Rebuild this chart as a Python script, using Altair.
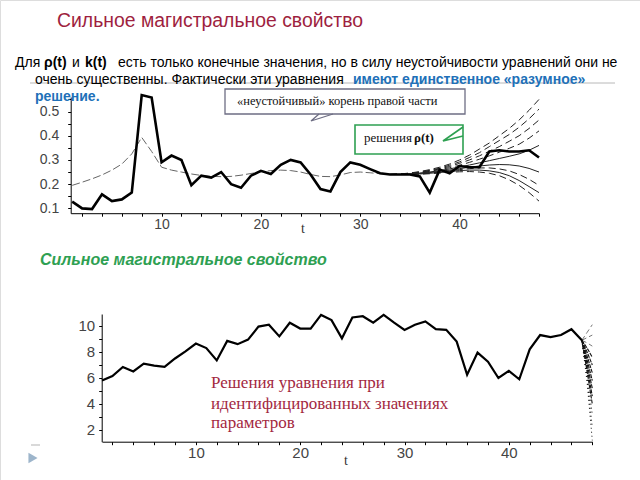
import altair as alt
import pandas as pd

# ---------------- top panel: rho(t) ----------------
T_TOP = list(range(1, 49))
RHO = [0.128, 0.100, 0.097, 0.158, 0.130, 0.137, 0.165, 0.568, 0.558, 0.290,
       0.318, 0.300, 0.196, 0.235, 0.227, 0.250, 0.200, 0.185, 0.235, 0.255,
       0.242, 0.280, 0.300, 0.290, 0.240, 0.180, 0.170, 0.250, 0.290, 0.280,
       0.262, 0.245, 0.240, 0.240, 0.240, 0.232, 0.165, 0.260, 0.245, 0.275,
       0.270, 0.270, 0.335, 0.340, 0.335, 0.335, 0.340, 0.310]

T_SMOOTH = list(range(1, 36))
RHO_SMOOTH = [0.195, 0.208, 0.222, 0.238, 0.258, 0.283, 0.325, 0.393, 0.335, 0.270,
              0.258, 0.250, 0.242, 0.236, 0.232, 0.231, 0.232, 0.237, 0.244, 0.251,
              0.256, 0.258, 0.256, 0.250, 0.240, 0.232, 0.231, 0.238, 0.248, 0.250,
              0.247, 0.243, 0.240, 0.240, 0.241]

T_FAN = list(range(33, 49))
FAN_DASHED = {
    "f1": [0.24, 0.242, 0.246, 0.252, 0.26, 0.27, 0.283, 0.30, 0.32, 0.345, 0.37, 0.40, 0.43, 0.465, 0.505, 0.55],
    "f2": [0.24, 0.242, 0.245, 0.25, 0.257, 0.266, 0.278, 0.292, 0.31, 0.33, 0.355, 0.38, 0.405, 0.435, 0.47, 0.51],
    "f3": [0.24, 0.241, 0.244, 0.249, 0.255, 0.263, 0.273, 0.286, 0.30, 0.317, 0.336, 0.355, 0.377, 0.40, 0.43, 0.465],
    "f4": [0.24, 0.241, 0.243, 0.247, 0.253, 0.26, 0.268, 0.278, 0.29, 0.303, 0.317, 0.332, 0.348, 0.365, 0.39, 0.42],
    "f7": [0.24, 0.24, 0.24, 0.243, 0.246, 0.25, 0.255, 0.26, 0.264, 0.267, 0.267, 0.263, 0.255, 0.24, 0.22, 0.195],
    "f9": [0.24, 0.24, 0.24, 0.241, 0.243, 0.246, 0.249, 0.251, 0.252, 0.25, 0.245, 0.235, 0.218, 0.195, 0.165, 0.13],
}
FAN_SOLID = {
    "f5": [0.24, 0.24, 0.242, 0.246, 0.25, 0.256, 0.263, 0.271, 0.279, 0.288, 0.297, 0.306, 0.315, 0.325, 0.34, 0.36],
    "f6": [0.24, 0.24, 0.241, 0.244, 0.248, 0.253, 0.258, 0.264, 0.27, 0.275, 0.279, 0.281, 0.28, 0.275, 0.265, 0.25],
    "f8": [0.24, 0.24, 0.24, 0.242, 0.245, 0.248, 0.252, 0.256, 0.258, 0.258, 0.255, 0.248, 0.235, 0.215, 0.19, 0.165],
}

TOP_X_TICKS = list(range(2, 49, 2))
TOP_Y_TICKS = [0.1, 0.15, 0.2, 0.25, 0.3, 0.35, 0.4, 0.45, 0.5, 0.55]

# ---------------- bottom panel: k(t) ----------------
T_BOT = list(range(1, 48))
K = [5.80, 6.15, 6.85, 6.50, 7.10, 6.95, 6.85, 7.50, 8.05, 8.65,
     8.30, 7.35, 8.85, 8.60, 8.95, 9.95, 10.10, 9.20, 10.25, 9.80,
     9.80, 10.85, 10.45, 9.05, 10.65, 10.75, 10.25, 10.85, 10.25, 9.70,
     10.10, 10.35, 9.75, 9.70, 8.80, 6.25, 7.95, 7.25, 6.00, 6.55,
     5.90, 8.20, 9.30, 9.15, 9.30, 9.75, 8.90]

T_FAN_B = [47, 47.5, 48]
FAN_B_THIN = {
    "u1": [8.9, 9.5, 10.1],
    "u2": [8.9, 9.1, 9.3],
    "u3": [8.9, 8.7, 8.45],
}
FAN_B_DENSE = {
    "b1": [8.9, 8.3, 7.6],
    "b2": [8.9, 8.0, 7.0],
    "b3": [8.9, 7.7, 6.4],
    "b4": [8.9, 7.4, 5.8],
    "b5": [8.9, 7.1, 5.2],
    "b6": [8.9, 6.8, 4.6],
    "b7": [8.9, 6.5, 4.0],
}
FAN_B_DOTTED = {
    "b8": [8.9, 6.2, 3.2],
    "b9": [8.9, 5.9, 2.2],
    "b10": [8.9, 5.7, 1.2],
}
BOT_X_TICKS = list(range(2, 49, 2))
BOT_Y_TICKS = list(range(2, 11))


def long_df(ts, series):
    rows = []
    for name, vals in series.items():
        for t, v in zip(ts, vals):
            rows.append({"t": t, "v": v, "line": name})
    return pd.DataFrame(rows)


W, H = 640, 480
AX_FONT = "Liberation Sans"
AX_COLOR = "#444444"

# --- top scales/axes
x_top_scale = alt.Scale(domain=[0.85, 48], range=[70.7, 539], nice=False, zero=False)
y_top_scale = alt.Scale(domain=[0.08, 0.56], range=[213.2, 97], nice=False, zero=False)
x_top_axis = alt.Axis(orient="bottom", offset=213.2 - H, values=TOP_X_TICKS,
                      labelExpr="datum.value % 10 == 0 ? datum.label : ''",
                      title=None, grid=False, tickSize=3, labelPadding=1,
                      domainColor="black", tickColor="black", labelColor=AX_COLOR,
                      labelFont=AX_FONT, labelFontSize=14, labelOverlap=False,
                      labelFlush=False)
y_top_axis = alt.Axis(orient="left", offset=-70.7, values=TOP_Y_TICKS,
                      labelExpr="round(datum.value*100) % 10 == 0 ? format(datum.value, '.1f') : ''",
                      title=None, grid=False, tickSize=3, labelPadding=9,
                      domainColor="black", tickColor="black", labelColor=AX_COLOR,
                      labelFont=AX_FONT, labelFontSize=14, labelOverlap=False,
                      labelFlush=False)
XT = alt.X("t:Q", scale=x_top_scale, axis=x_top_axis)
YT = alt.Y("v:Q", scale=y_top_scale, axis=y_top_axis)

df_rho = pd.DataFrame({"t": T_TOP, "v": RHO})
df_smooth = pd.DataFrame({"t": T_SMOOTH, "v": RHO_SMOOTH})
df_fan_d = long_df(T_FAN, FAN_DASHED)
df_fan_s = long_df(T_FAN, FAN_SOLID)

top = alt.layer(
    alt.Chart(df_fan_d).mark_line(color="#222", strokeWidth=1, strokeDash=[7, 4])
    .encode(x=XT, y=YT, detail="line:N"),
    alt.Chart(df_fan_s).mark_line(color="#222", strokeWidth=1)
    .encode(x=XT, y=YT, detail="line:N"),
    alt.Chart(df_smooth).mark_line(color="#666", strokeWidth=1, strokeDash=[8, 3])
    .encode(x=XT, y=YT),
    alt.Chart(df_rho).mark_line(color="black", strokeWidth=2.6)
    .encode(x=XT, y=YT),
)

# --- bottom scales/axes
x_bot_scale = alt.Scale(domain=[1, 48], range=[102, 592.3], nice=False, zero=False)
y_bot_scale = alt.Scale(domain=[1.1, 10.92], range=[441.7, 314], nice=False, zero=False)
x_bot_axis = alt.Axis(orient="bottom", offset=441.7 - H, values=BOT_X_TICKS,
                      labelExpr="datum.value % 10 == 0 ? datum.label : ''",
                      title=None, grid=False, tickSize=3, labelPadding=1,
                      domainColor="black", tickColor="black", labelColor=AX_COLOR,
                      labelFont=AX_FONT, labelFontSize=15, labelOverlap=False,
                      labelFlush=False)
y_bot_axis = alt.Axis(orient="left", offset=-101.7, values=BOT_Y_TICKS,
                      labelExpr="datum.value % 2 == 0 ? datum.label : ''",
                      title=None, grid=False, tickSize=3, labelPadding=4,
                      domainColor="black", tickColor="black", labelColor=AX_COLOR,
                      labelFont=AX_FONT, labelFontSize=15, labelOverlap=False,
                      labelFlush=False)
XB = alt.X("t:Q", scale=x_bot_scale, axis=x_bot_axis)
YB = alt.Y("v:Q", scale=y_bot_scale, axis=y_bot_axis)

df_k = pd.DataFrame({"t": T_BOT, "v": K})
bottom = alt.layer(
    alt.Chart(long_df(T_FAN_B, FAN_B_THIN)).mark_line(color="#555", strokeWidth=0.8, strokeDash=[5, 3])
    .encode(x=XB, y=YB, detail="line:N"),
    alt.Chart(long_df(T_FAN_B, FAN_B_DENSE)).mark_line(color="#111", strokeWidth=1.1, strokeDash=[4, 1])
    .encode(x=XB, y=YB, detail="line:N"),
    alt.Chart(long_df(T_FAN_B, FAN_B_DOTTED)).mark_line(color="#111", strokeWidth=1, strokeDash=[1, 3])
    .encode(x=XB, y=YB, detail="line:N"),
    alt.Chart(df_k).mark_line(color="black", strokeWidth=2.2)
    .encode(x=XB, y=YB),
)

# --- annotations
ONE = pd.DataFrame({"k": [0]})


def text(s, x, y, size, color="#000000", font="Liberation Sans", weight="normal",
         italic=False):
    return alt.Chart(ONE).mark_text(
        text=s, align="left", baseline="middle", fontSize=size, font=font,
        fontWeight=weight, fontStyle="italic" if italic else "normal", color=color
    ).encode(x=alt.value(x), y=alt.value(y))


def box(x1, x2, y1, y2, stroke, sw=1.3):
    return alt.Chart(ONE).mark_rect(fill="white", stroke=stroke, strokeWidth=sw).encode(
        x=alt.value(x1), x2=alt.value(x2), y=alt.value(y1), y2=alt.value(y2))


def poly(xs, ys, color, sw):
    df = pd.DataFrame({"px": xs, "py": ys, "o": list(range(len(xs)))})
    return alt.Chart(df).mark_line(color=color, strokeWidth=sw).encode(
        x=alt.X("px:Q", scale=None, axis=None),
        y=alt.Y("py:Q", scale=None, axis=None),
        order="o:O")


TITLE_RED = "#9E1F40"
BLUE = "#2070B8"
GREEN = "#2EA052"
SERIF = "Liberation Serif"

annots = [
    text("Сильное магистральное свойство", 57, 21, 19.4, TITLE_RED),
    text("Для", 15, 63, 14),
    text("ρ(t)", 44, 63, 14, weight="bold"),
    text("и", 72, 63, 14),
    text("k(t)", 85, 63, 14, weight="bold"),
    text("есть только конечные значения, но в силу неустойчивости уравнений они не", 118, 63, 14),
    poly([30, 615], [83, 83], "#b8b8b8", 1),
    text("очень существенны. Фактически эти уравнения", 35, 80, 14),
    text("имеют единственное «разумное»", 353, 80, 14, BLUE, weight="bold"),
    text("решение.", 35, 97, 14, BLUE, weight="bold"),
    box(225, 465, 89, 114, "#6E6E84"),
    poly([319, 311, 333], [114, 121, 114], "#6E6E84", 1.3),
    text("«неустойчивый» корень правой части", 237, 101, 12.5, "#111", font=SERIF),
    box(355, 463, 125, 154, GREEN, 1.6),
    poly([463, 443, 463], [127, 141, 136], GREEN, 1.6),
    text("решения", 364, 138, 13, "#111", font=SERIF),
    text("ρ(t)", 414, 138, 13, "#111", font=SERIF, weight="bold"),
    text("t", 301, 229, 14, "#333", font=SERIF),
    text("Сильное магистральное свойство", 40, 260, 16, GREEN, weight="bold", italic=True),
    text("Решения уравнения при", 211, 383, 17, "#A3283F", font=SERIF),
    text("идентифицированных значениях", 211, 404, 17, "#A3283F", font=SERIF),
    text("параметров", 211, 423, 17, "#A3283F", font=SERIF),
    text("t", 344, 461, 14, "#333", font=SERIF),
    poly([31, 40], [445, 445], "#cccccc", 1.5),
    alt.Chart(ONE).mark_point(shape="triangle-right", filled=True, size=110,
                              color="#9DB5CB", opacity=1).encode(
        x=alt.value(33), y=alt.value(458)),
]

chart = alt.layer(top, bottom, *annots).resolve_scale(
    x="independent", y="independent"
).resolve_axis(
    x="independent", y="independent"
).properties(
    width=W, height=H, padding=0,
    autosize=alt.AutoSizeParams(type="none"),
).configure_view(stroke=None).configure(background="white")

chart.save("out.html", embed_options={"renderer": "svg", "actions": False})
